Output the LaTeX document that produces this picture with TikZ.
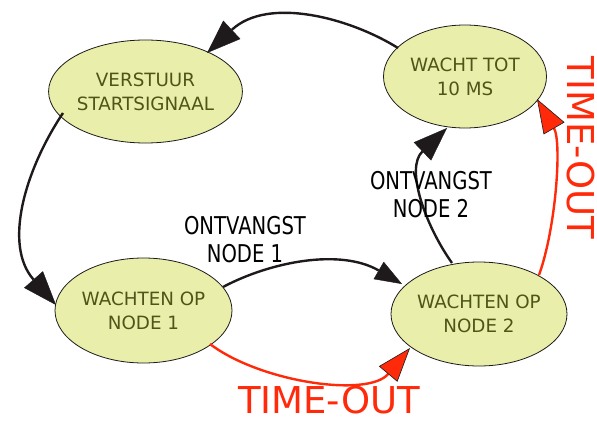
\documentclass[tikz,border=0pt]{standalone}
\usepackage{fontspec}
\setmainfont{DejaVu Sans}
\newfontfamily\lblfont[FakeStretch=0.8]{DejaVu Sans}
\usetikzlibrary{shapes.geometric,arrows.meta}
\definecolor{statefill}{HTML}{E9EFAA}
\definecolor{statetext}{HTML}{4F5418}
\definecolor{darkline}{HTML}{1E1A1B}
\definecolor{timeout}{HTML}{FF2A0A}
\tikzset{
  state/.style={ellipse, draw=darkline, line width=0.8pt, fill=statefill,
    inner sep=0pt, text=statetext, align=center,
    font=\fontsize{18.3}{24}\selectfont},
  trans/.style={draw=darkline, line width=2.4pt,
    -{Triangle[length=34pt,width=25pt,fill=darkline,color=darkline,line width=0.4pt]}},
  smalltrans/.style={draw=darkline, line width=2.4pt,
    -{Triangle[length=27pt,width=20pt,fill=darkline,color=darkline,line width=0.4pt]}},
  totrans/.style={draw=timeout, line width=2.4pt,
    -{Triangle[length=34pt,width=24pt,fill=timeout,color=darkline,line width=0.6pt]}},
  lbl/.style={align=center, inner sep=0pt, text=black,
    font=\lblfont\fontsize{24.5}{28}\selectfont},
  tolbl/.style={inner sep=0pt, text=timeout,
    font=\fontsize{37}{40}\selectfont},
}
\begin{document}
\begin{tikzpicture}[x=1pt,y=-1pt]
  \useasboundingbox (0,0) rectangle (597,423);

  % states
  \node[state, minimum width=175pt, minimum height=103pt] (start) at (145.5,91.5) {VERSTUUR\\STARTSIGNAAL};
  \node[state, minimum width=163pt, minimum height=103pt] (wait10) at (465,76.5) {WACHT TOT\\10 MS};
  \node[state, minimum width=177pt, minimum height=105pt] (node1) at (143.5,310.5) {WACHTEN OP\\NODE 1};
  \node[state, minimum width=176pt, minimum height=104pt] (node2) at (479,314) {WACHTEN OP\\NODE 2};

  % end points of the connectors on the state borders
  \coordinate (w10out) at (398,48);
  \coordinate (startin) at (207,53);
  \coordinate (startout) at (63,113);
  \coordinate (n1in) at (56,305);
  \coordinate (n1right) at (223,287);
  \coordinate (n2in) at (402,284);
  \coordinate (n2top) at (452,263);
  \coordinate (w10in) at (447,128);
  \coordinate (n1low) at (210,344);
  \coordinate (n2low) at (410,348);
  \coordinate (n2right) at (539,275);
  \coordinate (w10right) at (537,99);

  % transitions
  \draw[trans] (w10out) .. controls (350,18) and (268,-4) .. (startin);
  \draw[trans] (startout) .. controls (25,170) and (3,245) .. (n1in);
  \draw[smalltrans] (n1right) .. controls (270,262) and (340,248) .. (n2in);
  \draw[trans] (n2top) .. controls (425,225) and (405,168) .. (w10in);
  \draw[totrans] (n1low) .. controls (260,382) and (368,398) .. (n2low);
  \draw[totrans] (n2right) .. controls (556,228) and (562,142) .. (w10right);

  % labels
  \node[lbl] (lbl1) at (245,240) {ONTVANGST\\NODE 1};
  \node[lbl] (lbl2) at (431,195) {ONTVANGST\\NODE 2};
  \node[tolbl, anchor=base] (to1) at (329,413) {TIME-OUT};
  \node[tolbl, anchor=base, rotate=-90] (to2) at (567,148) {TIME-OUT};
\end{tikzpicture}
\end{document}
